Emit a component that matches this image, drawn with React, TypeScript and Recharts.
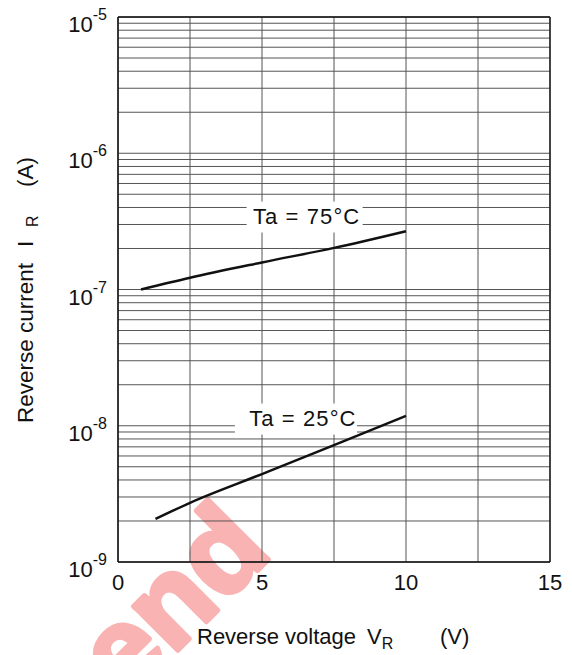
import { LineChart, Line, XAxis, YAxis, CartesianGrid, ReferenceDot, ReferenceLine, Label } from 'recharts'

const FONT = '"Liberation Sans", Arial, Helvetica, sans-serif'

// y grid: every 1..9 step of each decade
const decades = [1e-9, 1e-8, 1e-7, 1e-6, 1e-5]
const mantissas = [1, 2, 3, 4, 5, 6, 7, 8, 9]
const yTicks = decades.flatMap((d, i) => (i === decades.length - 1 ? [d] : mantissas.map((m) => m * d)))

const xTicks = [0, 2.5, 5, 7.5, 10, 12.5, 15]
const xLabels = [0, 5, 10, 15]

// reverse current (A) vs reverse voltage (V)
const curve75 = [
  { v: 0.8, i: 1.0e-7 },
  { v: 2.5, i: 1.22e-7 },
  { v: 5, i: 1.58e-7 },
  { v: 7.5, i: 2.02e-7 },
  { v: 10, i: 2.68e-7 },
]

const curve25 = [
  { v: 1.3, i: 2.07e-9 },
  { v: 2.5, i: 2.72e-9 },
  { v: 5, i: 4.42e-9 },
  { v: 7.5, i: 7.2e-9 },
  { v: 10, i: 1.18e-8 },
]

function YTick({ x, y, payload }: any) {
  if (!decades.includes(payload.value)) return <g />
  const exp = Math.round(Math.log10(payload.value))
  return (
    <text x={x} y={y + 15} textAnchor="end" fontFamily={FONT} fill="#111">
      <tspan fontSize={22}>10</tspan>
      <tspan fontSize={16} dy={-12}>{`${exp}`}</tspan>
    </text>
  )
}

function XTick({ x, y, payload }: any) {
  if (!xLabels.includes(payload.value)) return <g />
  return (
    <text x={x} y={y + 28} textAnchor="middle" fontFamily={FONT} fontSize={22} fill="#111">
      {payload.value}
    </text>
  )
}

function TempLabel({ cx, cy, text, left, right }: any) {
  return (
    <g>
      <rect x={cx - left} y={cy - 15} width={left + right} height={31} fill="#fff" />
      <text x={cx} y={cy + 7} textAnchor="middle" fontFamily={FONT} fontSize={22} letterSpacing={1.1} fill="#111">
        {text}
      </text>
    </g>
  )
}

export default function App() {
  return (
    <div style={{ position: 'absolute', left: 0, top: 0, width: 572, height: 655, background: '#fff', overflow: 'hidden' }}>
      {/* watermark fragment behind the chart */}
      <svg width={572} height={655} style={{ position: 'absolute', left: 0, top: 0 }}>
        <text
          x={274}
          y={554}
          textAnchor="end"
          transform="rotate(-45 274 554)"
          fontFamily={FONT}
          fontWeight="bold"
          fontSize={118}
          fill="#f9b3b3"
          stroke="#f9b3b3"
          strokeWidth={5}
          strokeLinejoin="round"
        >
          end
        </text>
      </svg>
      <div style={{ position: 'absolute', left: 0, top: 0 }}>
        <LineChart width={572} height={655} margin={{ top: 17, right: 22, left: 0, bottom: 0 }}>
          <CartesianGrid stroke="#555" strokeWidth={1} />
          <XAxis
            type="number"
            dataKey="v"
            domain={[0, 15]}
            ticks={xTicks}
            interval={0}
            height={93}
            tickSize={0}
            tickMargin={0}
            tickLine={false}
            axisLine={{ stroke: '#111', strokeWidth: 1.5 }}
            tick={<XTick />}
          >
            <Label
              content={() => (
                <text y={644} fontFamily={FONT} fontSize={22} fill="#111">
                  <tspan x={197}>Reverse voltage </tspan>
                  <tspan x={367}>V</tspan>
                  <tspan fontSize={16} dy={5}>R</tspan>
                  <tspan x={440} dy={-5}>(V)</tspan>
                </text>
              )}
            />
          </XAxis>
          <YAxis
            type="number"
            scale="log"
            domain={[1e-9, 1e-5]}
            allowDataOverflow
            ticks={yTicks}
            interval={0}
            width={118}
            tickSize={0}
            tickMargin={11}
            tickLine={false}
            axisLine={{ stroke: '#111', strokeWidth: 1.5 }}
            tick={<YTick />}
          >
            <Label
              content={() => (
                <text transform="rotate(-90 33 423)" x={33} y={423} fontFamily={FONT} fontSize={22.5} fill="#111">
                  <tspan x={33}>Reverse current</tspan>
                  <tspan x={33 + 176}>I</tspan>
                  <tspan x={33 + 196} fontSize={16} dy={5}>R</tspan>
                  <tspan x={33 + 236} dy={-5}>(A)</tspan>
                </text>
              )}
            />
          </YAxis>
          <ReferenceLine y={1e-5} stroke="#111" strokeWidth={1.5} />
          <ReferenceLine x={15} stroke="#222" strokeWidth={1.5} />
          <ReferenceDot
            x={6.55}
            y={3.43e-7}
            r={0}
            shape={(p: any) => <TempLabel {...p} text={'Ta = 75\u00B0C'} left={60} right={56} />}
          />
          <ReferenceDot
            x={6.42}
            y={1.13e-8}
            r={0}
            shape={(p: any) => <TempLabel {...p} text={'Ta = 25\u00B0C'} left={68} right={54} />}
          />
          <Line data={curve75} dataKey="i" type="monotone" stroke="#111" strokeWidth={2.5} dot={false} isAnimationActive={false} />
          <Line data={curve25} dataKey="i" type="monotone" stroke="#111" strokeWidth={2.5} dot={false} isAnimationActive={false} />
        </LineChart>
      </div>
    </div>
  )
}
